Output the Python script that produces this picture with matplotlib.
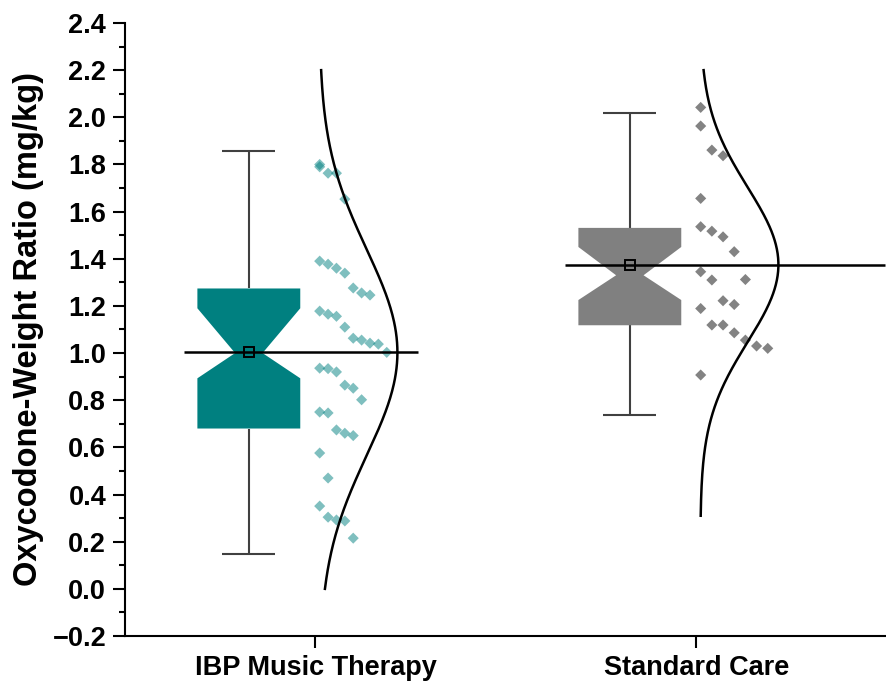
import numpy as np
import matplotlib
matplotlib.use("Agg")
import matplotlib.pyplot as plt
from matplotlib.patches import Polygon
from matplotlib.ticker import MultipleLocator, FuncFormatter

plt.rcParams['font.family'] = ['Liberation Sans', 'DejaVu Sans']
plt.rcParams['font.weight'] = 'bold'

groups = ["IBP Music Therapy", "Standard Care"]

# oxycodone-weight ratio per patient (mg/kg), listed bin by bin (0.2 wide bins)
ibp_values = [1.80,
              1.79, 1.763, 1.763, 1.653,
              1.39, 1.377, 1.36, 1.339, 1.276, 1.255, 1.246,
              1.178, 1.165, 1.156, 1.11, 1.063, 1.055, 1.042, 1.038, 1.003,
              0.936, 0.934, 0.92, 0.864, 0.851, 0.802,
              0.75, 0.746, 0.674, 0.66, 0.65,
              0.576, 0.47,
              0.351, 0.304, 0.292, 0.288, 0.215]
std_values = [2.042,
              1.963, 1.861, 1.837,
              1.656,
              1.536, 1.517, 1.493, 1.430,
              1.345, 1.310, 1.222, 1.206, 1.312,
              1.189, 1.119, 1.119, 1.086, 1.055, 1.030, 1.020,
              0.907]

# box stats: lower whisker, Q1, notch low, median, notch high, Q3, upper whisker
ibp_box = [0.148, 0.680, 0.893, 1.00, 1.190, 1.274, 1.857]
std_box = [0.737, 1.118, 1.225, 1.33, 1.450, 1.531, 2.017]

# normal curve extent per group
curve_ranges = [(0.0, 2.2), (0.31, 2.2)]
# right end of the mean line per group
mean_line_ends = [1.27, 2.495]

box_colors = ["#008080", "#808080"]
point_colors = ["#008080", "#838383"]
point_alphas = [0.5, 1.0]


def bin_offsets(values, bin_width=0.2, spread=0.176):
    """x offsets that stack the points of each bin side by side"""
    bins = np.floor(np.asarray(values) / bin_width + 1e-9).astype(int)
    counts = {}
    idx = np.zeros(len(values))
    for i, b in enumerate(bins):
        idx[i] = counts.get(b, 0)
        counts[b] = idx[i] + 1
    step = spread / (max(counts.values()) - 1)
    return idx * step


fig = plt.figure(figsize=(8.87, 6.81), dpi=100)
ax = fig.add_axes([125 / 887, 45 / 681, 762 / 887, 613 / 681])

positions = [1, 2]
box_shift = -0.175
half_w = 0.135
notch_w = 0.036

for pos, vals, stats, bcol, pcol, palpha, (lo, hi), line_end in zip(
        positions, [ibp_values, std_values], [ibp_box, std_box],
        box_colors, point_colors, point_alphas, curve_ranges, mean_line_ends):
    vals = np.asarray(vals)
    whislo, q1, cilo, med, cihi, q3, whishi = stats
    bx = pos + box_shift

    # notched box
    verts = [(bx - half_w, q1), (bx + half_w, q1), (bx + half_w, cilo),
             (bx + notch_w, med), (bx + half_w, cihi), (bx + half_w, q3),
             (bx - half_w, q3), (bx - half_w, cihi), (bx - notch_w, med),
             (bx - half_w, cilo)]
    ax.add_patch(Polygon(verts, closed=True, facecolor=bcol, edgecolor='none', zorder=2))

    # whiskers and caps
    ax.vlines(bx, whislo, q1, color='#404040', lw=1.5, zorder=1)
    ax.vlines(bx, q3, whishi, color='#404040', lw=1.5, zorder=1)
    ax.hlines([whislo, whishi], bx - 0.07, bx + 0.07, color='#404040', lw=1.5, zorder=1)

    # individual points
    ax.scatter(pos + 0.011 + bin_offsets(vals), vals, marker='D', s=32,
               color=pcol, alpha=palpha, edgecolors='none', zorder=3)

    # fitted normal curve
    mean = vals.mean()
    sd = vals.std(ddof=1)
    yy = np.linspace(lo, hi, 300)
    xx = pos + 0.01 + 0.205 * np.exp(-(yy - mean) ** 2 / (2 * sd ** 2))
    ax.plot(xx, yy, color='black', lw=1.8, zorder=4)

    # mean line and marker
    ax.hlines(mean, bx - 0.17, line_end, color='black', lw=1.8, zorder=4)
    ax.plot(bx, mean, marker='s', ms=7.5, mfc='none', mec='black', mew=1.4, zorder=5)

ax.set_xlim(0.5, 2.5)
ax.set_ylim(-0.2, 2.4)
ax.set_xticks(positions)
ax.set_xticklabels(groups, fontsize=19.5, fontweight='bold')
ax.yaxis.set_major_locator(MultipleLocator(0.2))
ax.yaxis.set_minor_locator(MultipleLocator(0.1))
ax.yaxis.set_major_formatter(FuncFormatter(lambda v, _: f"{v:.1f}".replace("-", "\u2212")))
ax.tick_params(axis='both', which='major', length=8.5, width=1.5, direction='out', pad=5)
ax.tick_params(axis='y', which='minor', length=4.3, width=1.5, direction='out')
ax.tick_params(axis='y', labelsize=19.5)
for lab in ax.get_yticklabels():
    lab.set_fontweight('bold')

ax.spines['top'].set_visible(False)
ax.spines['right'].set_visible(False)
ax.spines['left'].set_linewidth(1.5)
ax.spines['bottom'].set_linewidth(1.5)

ax.set_ylabel("Oxycodone-Weight Ratio (mg/kg)", fontsize=23.5, fontweight='bold', labelpad=6)

fig.savefig("out.png", dpi=100)
